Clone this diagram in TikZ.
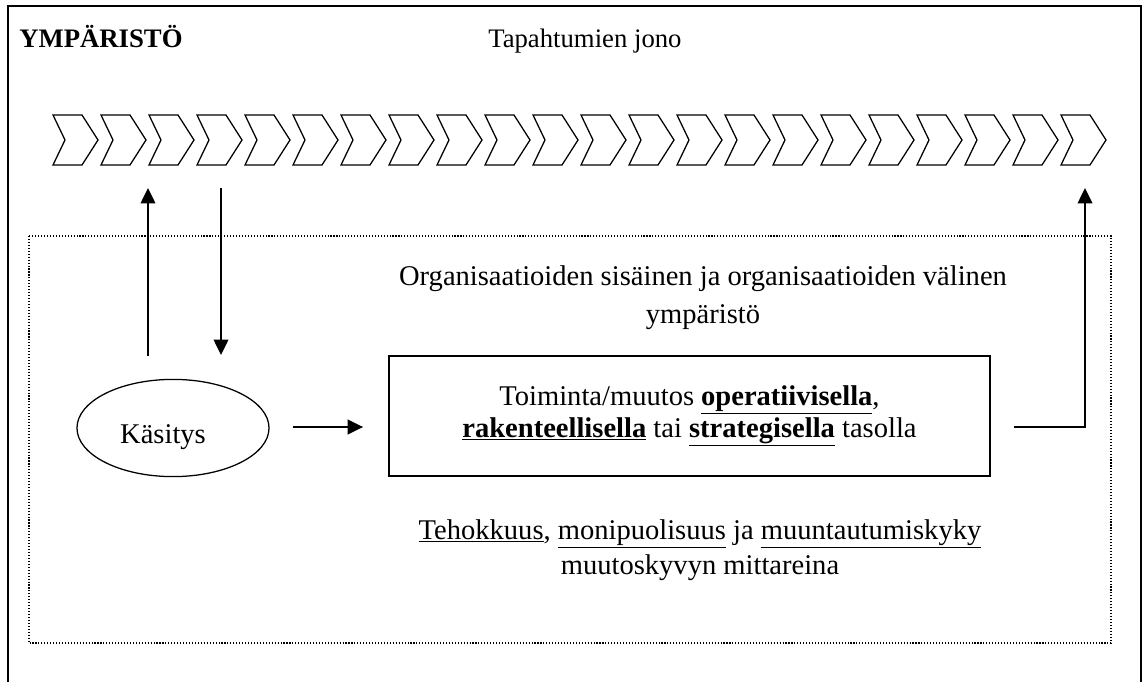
\documentclass[tikz,border=0pt]{standalone}
\usepackage{fontspec}
\setmainfont{Liberation Serif}
\usepackage{tikz}
\usetikzlibrary{calc,arrows.meta,shapes.geometric}
\def\leipa{\fontsize{20.3}{24}\selectfont}
\def\otsake{\fontsize{19}{23}\selectfont}

\begin{document}
\begin{tikzpicture}[x=0.025cm,y=-0.025cm,
	nuoli/.style={line width=1.1pt,-{Triangle[length=11pt,width=10.5pt]}},
	lenkki/.style={line width=0.9pt,line join=miter},
	teksti/.style={inner sep=0pt,align=center,font=\leipa}]
		%%%%% START %%%%%
		\useasboundingbox (0,0) rectangle (1143,682);
		
		\draw[line width=1.4pt] (8,690) -- (8,6) -- (1141,6) -- (1141,690);
		\node[anchor=base west,inner sep=0pt,font=\otsake\bfseries] (ymparisto) at (19,48) {YMPÄRISTÖ};
		\node[anchor=base west,inner sep=0pt,font=\otsake] (jonoteksti) at (488,48) {Tapahtumien jono};
		
		% tapahtumat
		\foreach \i in {1,...,22}{
			\pgfmathsetmacro{\x}{53+48*(\i-1)}
			\draw[lenkki] (\x,115) -- ++(29,0) -- ++(16,25) -- ++(-16,25) -- ++(-29,0) -- ++(12,-25) -- cycle;
		}
		\coordinate (jono) at (0,188);
		
		\draw[line width=0.8pt,dash pattern=on 0.8pt off 1.3pt] (29,236) rectangle (1111,643);
		\node[teksti,font=\fontsize{20.3}{27}\selectfont] (sisainen) at (703,298) {Organisaatioiden sisäinen ja organisaatioiden välinen\\ ympäristö};
		
		\node[draw,ellipse,line width=0.9pt,minimum width=4.8cm,minimum height=2.43cm,inner sep=0pt] (kasitys) at (173,428) {};
		\node[anchor=base,inner sep=0pt,font=\leipa] (kasitysteksti) at (163,443) {Käsitys};
		
		\node[draw,line width=1.2pt,minimum width=15.025cm,minimum height=3cm,teksti,font=\fontsize{20.3}{22.8}\selectfont] (toiminta) at (689.5,416)
			{Toiminta/muutos \underline{\textbf{operatiivisella}},\\ \underline{\textbf{rakenteellisella}} tai \underline{\textbf{strategisella}} tasolla};
		
		\node[teksti,font=\fontsize{20.3}{25}\selectfont] (mittarit) at (700,550) {\underline{Tehokkuus}, \underline{monipuolisuus} ja \underline{muuntautumiskyky}\\ muutoskyvyn mittareina};
		
		\coordinate (vasen) at (148,356);
		\coordinate (oikea) at (221,355);
		\coordinate (palaute) at (1085,188);
		\draw[nuoli] (vasen) -- (vasen |- jono);
		\draw[nuoli] (oikea |- jono) -- (oikea);
		\draw[nuoli] ($(kasitys.east)+(23,-1)$) -- ($(toiminta.west)+(-25,11)$);
		\draw[nuoli] ($(toiminta.east)+(23,11)$) -| (palaute);
		
		%%%%% END %%%%%
	\end{tikzpicture}
\end{document}
